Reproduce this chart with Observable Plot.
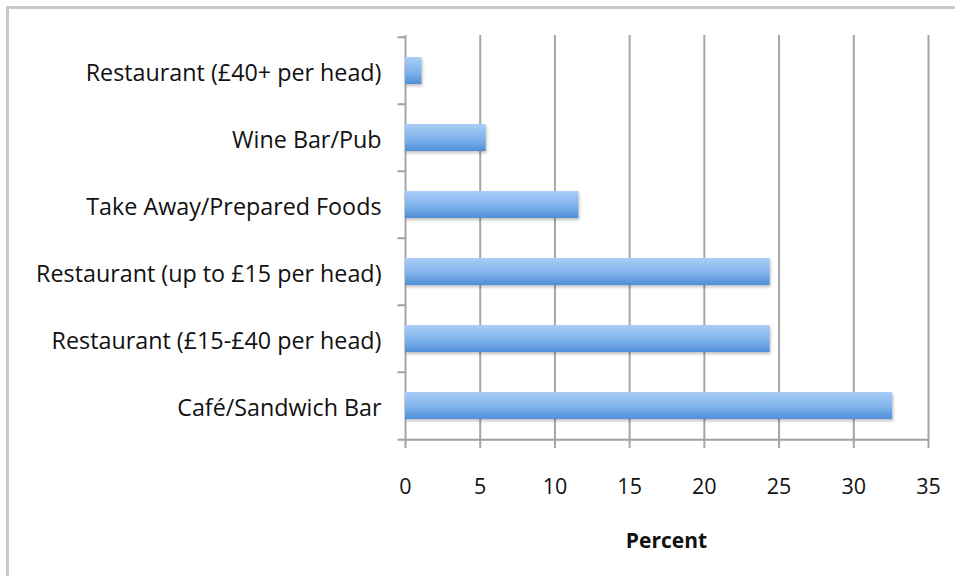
<!DOCTYPE html>
<html><head><meta charset="utf-8">
<script src="https://cdn.jsdelivr.net/npm/d3@7"></script>
<script src="https://cdn.jsdelivr.net/npm/@observablehq/plot@0.6"></script>
<style>
body{margin:0;background:#fff;}
#wrap{position:relative;width:955px;height:576px;overflow:hidden;font-family:"Open Sans",sans-serif;}
#frame{position:absolute;left:6px;top:6px;width:1000px;height:700px;border-top:3px solid #c9c9c9;border-left:3px solid #c9c9c9;}
#chart{position:absolute;left:0;top:0;}
#xlabel{position:absolute;left:405px;width:523px;top:526px;text-align:center;font-weight:bold;font-size:21px;color:#111;}
</style></head><body>
<div id="wrap"><div id="frame"></div><div id="chart"></div><div id="xlabel"></div></div>
<script>
const categories = ["Restaurant (£40+ per head)","Wine Bar/Pub","Take Away/Prepared Foods","Restaurant (up to £15 per head)","Restaurant (£15-£40 per head)","Café/Sandwich Bar"];
const values = [1.1, 5.4, 11.6, 24.4, 24.4, 32.6];
const xTicks = [0, 5, 10, 15, 20, 25, 30, 35];
const xLabel = "Percent";

const data = categories.map((c, i) => ({category: c, value: values[i]}));
const lastCat = [categories[categories.length - 1]];
const step = (576 - 35 - 136) / categories.length;

const plot = Plot.plot({
  width: 955,
  height: 576,
  marginLeft: 405,
  marginRight: 27,
  marginTop: 35,
  marginBottom: 136,
  style: {fontFamily: "'Open Sans', sans-serif", fontSize: "21.5px", color: "#111", background: "transparent"},
  x: {domain: [0, 35]},
  y: {domain: categories, padding: 0},
  marks: [
    Plot.ruleX(xTicks, {stroke: "#a6a6a6", strokeWidth: 2}),
    Plot.ruleY(categories, {y: d => d, x1: -0.5, x2: 0, dy: -step / 2, stroke: "#a0a0a0", strokeWidth: 2}),
    Plot.ruleY(lastCat, {y: d => d, x1: -0.5, x2: 35, dy: step / 2, stroke: "#a0a0a0", strokeWidth: 2}),
    Plot.barX(data, {x: "value", y: "category", fill: "url(#barGrad)", insetTop: 20, insetBottom: 20}),
    Plot.axisX({ticks: xTicks, tickSize: 8, tickPadding: 30, stroke: "#a6a6a6", strokeWidth: 2, fill: "#111", label: null}),
    Plot.axisY({tickSize: 0, tickPadding: 24, fill: "#111", fontSize: 23.3, dy: 3, label: null})
  ]
});

const svg = d3.select(plot);
const defs = svg.insert("defs", ":first-child");
const g = defs.append("linearGradient").attr("id", "barGrad").attr("x1", 0).attr("y1", 0).attr("x2", 0).attr("y2", 1);
g.append("stop").attr("offset", "0%").attr("stop-color", "#aacdf7");
g.append("stop").attr("offset", "55%").attr("stop-color", "#80b3ec");
g.append("stop").attr("offset", "100%").attr("stop-color", "#4f8fd8");
svg.selectAll("g[aria-label='bar'] rect").style("filter", "drop-shadow(1px 2px 1.5px rgba(0,0,0,0.25))");

document.getElementById("chart").appendChild(plot);
document.getElementById("xlabel").textContent = xLabel;
</script>
</body></html>
